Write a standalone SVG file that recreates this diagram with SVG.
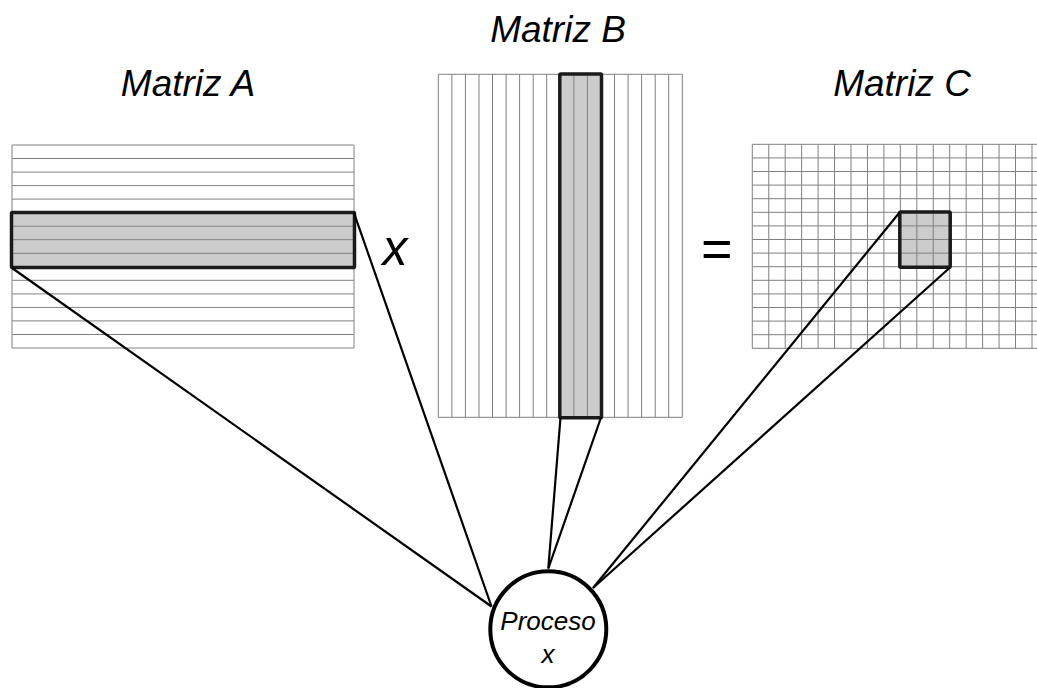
<svg xmlns="http://www.w3.org/2000/svg" width="1037" height="688" viewBox="0 0 1037 688">
  <style>
    .grid { fill: none; stroke: #808080; stroke-width: 1; }
    .sel { fill: #cccccc; stroke: none; }
    .selb { fill: none; stroke: #1a1a1a; stroke-width: 3.5; stroke-linejoin: round; }
    .link { stroke: #000; stroke-width: 2.2; fill: none; }
    .lbl { font-family: "Liberation Sans", Arial, sans-serif; font-style: italic; fill: #000; text-anchor: middle; }
    .title { font-size: 37px; }
  </style>
  <rect width="1037" height="688" fill="#ffffff"/>

  <!-- Matrix A: 15 rows -->
  <g id="matrizA">
    <rect class="sel" x="12" y="212.7" width="342" height="54.1"/>
    <path class="grid" d="M12 145H354M12 158.5H354M12 172.1H354M12 185.6H354M12 199.1H354M12 212.7H354M12 226.2H354M12 239.7H354M12 253.3H354M12 266.8H354M12 280.3H354M12 293.9H354M12 307.4H354M12 320.9H354M12 334.5H354M12 348H354M12 145V348M354 145V348"/>
    <rect class="selb" x="11.5" y="212.5" width="343" height="55" rx="1"/>
    <text class="lbl title" x="188" y="96">Matriz A</text>
  </g>

  <!-- Matrix B: 18 columns -->
  <g id="matrizB">
    <rect class="sel" x="560.3" y="74.3" width="40.7" height="343"/>
    <path class="grid" d="M438.3 74.3V417.3M451.9 74.3V417.3M465.4 74.3V417.3M479 74.3V417.3M492.5 74.3V417.3M506.1 74.3V417.3M519.6 74.3V417.3M533.2 74.3V417.3M546.7 74.3V417.3M560.3 74.3V417.3M573.9 74.3V417.3M587.4 74.3V417.3M601 74.3V417.3M614.5 74.3V417.3M628.1 74.3V417.3M641.6 74.3V417.3M655.2 74.3V417.3M668.7 74.3V417.3M682.3 74.3V417.3M438.3 74.3H682.3M438.3 417.3H682.3"/>
    <rect class="selb" x="559.8" y="74" width="41.7" height="343.8" rx="1"/>
    <text class="lbl title" x="558" y="42">Matriz B</text>
  </g>

  <!-- Matrix C: square grid running off the right edge -->
  <g id="matrizC">
    <rect class="sel" x="900.3" y="212.3" width="49.4" height="54.4"/>
    <path class="grid" d="M752.3 144.3V348.3M768.75 144.3V348.3M785.2 144.3V348.3M801.65 144.3V348.3M818.1 144.3V348.3M834.55 144.3V348.3M851 144.3V348.3M867.45 144.3V348.3M883.9 144.3V348.3M900.35 144.3V348.3M916.8 144.3V348.3M933.25 144.3V348.3M949.7 144.3V348.3M966.15 144.3V348.3M982.6 144.3V348.3M999.05 144.3V348.3M1015.5 144.3V348.3M1032 144.3V348.3M752.3 144.3H1040M752.3 157.9H1040M752.3 171.5H1040M752.3 185.1H1040M752.3 198.7H1040M752.3 212.3H1040M752.3 225.9H1040M752.3 239.5H1040M752.3 253.1H1040M752.3 266.7H1040M752.3 280.3H1040M752.3 293.9H1040M752.3 307.5H1040M752.3 321.1H1040M752.3 334.7H1040M752.3 348.3H1040"/>
    <rect class="selb" x="899.8" y="212" width="50.4" height="55.2" rx="1"/>
    <text class="lbl title" x="902" y="96">Matriz C</text>
  </g>

  <!-- Operators -->
  <g id="ops">
    <text class="lbl" x="395" y="265" font-size="50">x</text>
    <text class="lbl" x="716" y="267" font-size="54">=</text>
  </g>

  <!-- Connectors from the selected blocks to the process -->
  <g id="connectors">
    <line class="link" x1="12" y1="268" x2="491.5" y2="606.5"/>
    <line class="link" x1="354" y1="213" x2="491.5" y2="606.5"/>
    <line class="link" x1="560.5" y1="417.5" x2="548.3" y2="568.5"/>
    <line class="link" x1="601" y1="417.5" x2="548.3" y2="568.5"/>
    <line class="link" x1="899.5" y1="212.5" x2="593" y2="588"/>
    <line class="link" x1="950" y1="267.5" x2="593" y2="588"/>
  </g>

  <!-- Process node -->
  <g id="proceso">
    <circle cx="548.3" cy="629.3" r="58" fill="#ffffff" stroke="#000" stroke-width="4"/>
    <text class="lbl" x="548" y="630" font-size="26">Proceso</text>
    <text class="lbl" x="548" y="663" font-size="26">x</text>
  </g>
</svg>
